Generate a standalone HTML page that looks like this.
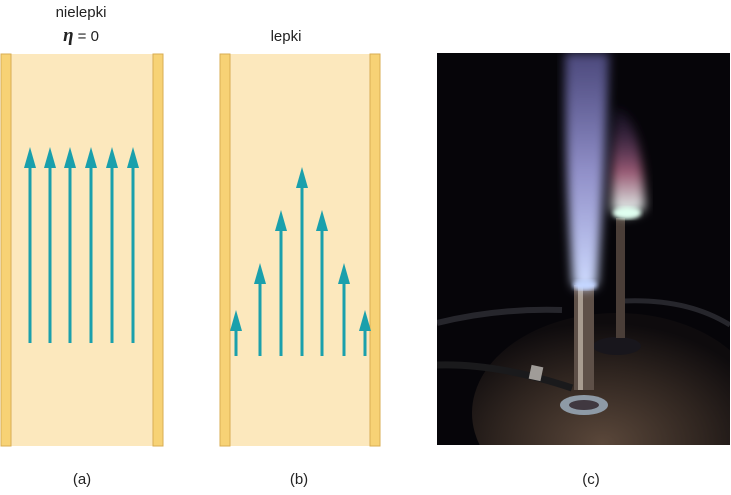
<!DOCTYPE html>
<html><head><style>
body{margin:0;width:731px;height:490px;background:#fff;overflow:hidden;font-family:"Liberation Sans",sans-serif;}
</style></head><body>
<svg width="731" height="490" viewBox="0 0 731 490">
<defs>
<radialGradient id="tbl" cx="0.45" cy="0.65" r="0.6">
<stop offset="0" stop-color="#5a473a"/><stop offset="0.6" stop-color="#2e241f"/><stop offset="1" stop-color="#0e0b0d"/>
</radialGradient>
<linearGradient id="fl1" x1="0" y1="0" x2="0" y2="1">
<stop offset="0" stop-color="#7a76c8" stop-opacity="0.6"/><stop offset="0.5" stop-color="#a9a8ea" stop-opacity="0.85"/><stop offset="1" stop-color="#cfdcff"/>
</linearGradient>
<linearGradient id="fl2" x1="0" y1="0" x2="0" y2="1">
<stop offset="0" stop-color="#3a2a60" stop-opacity="0.2"/><stop offset="0.6" stop-color="#9a5a74"/><stop offset="1" stop-color="#e8fff8"/>
</linearGradient>
<filter id="bl"><feGaussianBlur stdDeviation="5"/></filter>
<filter id="bl2"><feGaussianBlur stdDeviation="2"/></filter>
</defs>
<rect x="1" y="54" width="162" height="392" fill="#fce8bd"/>
<rect x="1" y="54" width="10" height="392" fill="#f7d275" stroke="#d9ad52" stroke-width="1"/>
<rect x="153" y="54" width="10" height="392" fill="#f7d275" stroke="#d9ad52" stroke-width="1"/>
<g fill="#1aa0ac" stroke="#1aa0ac">
<g stroke-width="3">
<line x1="30" y1="343" x2="30" y2="165"/><line x1="50" y1="343" x2="50" y2="165"/><line x1="70" y1="343" x2="70" y2="165"/>
<line x1="91" y1="343" x2="91" y2="165"/><line x1="112" y1="343" x2="112" y2="165"/><line x1="133" y1="343" x2="133" y2="165"/>
</g>
<g stroke="none">
<polygon points="24,168 30,147 36,168"/><polygon points="44,168 50,147 56,168"/><polygon points="64,168 70,147 76,168"/>
<polygon points="85,168 91,147 97,168"/><polygon points="106,168 112,147 118,168"/><polygon points="127,168 133,147 139,168"/>
</g>
</g>
<rect x="220" y="54" width="160" height="392" fill="#fce8bd"/>
<rect x="220" y="54" width="10" height="392" fill="#f7d275" stroke="#d9ad52" stroke-width="1"/>
<rect x="370" y="54" width="10" height="392" fill="#f7d275" stroke="#d9ad52" stroke-width="1"/>
<g fill="#1aa0ac" stroke="#1aa0ac">
<g stroke-width="3">
<line x1="236" y1="356" x2="236" y2="326"/><line x1="260" y1="356" x2="260" y2="280"/><line x1="281" y1="356" x2="281" y2="226"/>
<line x1="302" y1="356" x2="302" y2="184"/><line x1="322" y1="356" x2="322" y2="226"/><line x1="344" y1="356" x2="344" y2="280"/><line x1="365" y1="356" x2="365" y2="326"/>
</g>
<g stroke="none">
<polygon points="230,331 236,310 242,331"/><polygon points="254,284 260,263 266,284"/><polygon points="275,231 281,210 287,231"/>
<polygon points="296,188 302,167 308,188"/><polygon points="316,231 322,210 328,231"/><polygon points="338,284 344,263 350,284"/><polygon points="359,331 365,310 371,331"/>
</g>
</g>
<rect x="437" y="53" width="293" height="392" fill="#060509"/>
<svg x="437" y="53" width="293" height="392">
<ellipse cx="180" cy="360" rx="145" ry="100" fill="url(#tbl)"/>
<path d="M0,270 Q60,255 125,257" stroke="#26262c" stroke-width="6" fill="none"/>
<path d="M185,248 Q250,245 293,272" stroke="#26262c" stroke-width="5" fill="none"/>
<ellipse cx="180" cy="293" rx="24" ry="9" fill="#18161c"/>
<rect x="179" y="165" width="9" height="120" fill="#4a3e38"/>
<rect x="137" y="232" width="20" height="105" fill="#5e5048"/>
<rect x="141" y="232" width="5" height="105" fill="#a89c90"/>
<ellipse cx="147" cy="352" rx="24" ry="10" fill="#8e9aa6"/>
<ellipse cx="147" cy="352" rx="15" ry="5" fill="#403840"/>
<path d="M0,312 Q60,310 135,335" stroke="#1a1a1c" stroke-width="7" fill="none"/>
<rect x="93" y="313" width="12" height="14" fill="#a09c98" transform="rotate(12 99 320)"/>
<g filter="url(#bl)">
<path d="M128,0 L172,0 Q168,120 160,232 Q148,240 136,232 Q128,120 128,0Z" fill="url(#fl1)"/>
<path d="M178,55 Q205,60 208,155 Q193,168 175,158 Q174,100 178,55Z" fill="url(#fl2)"/>
</g>
<ellipse cx="148" cy="232" rx="12" ry="5" fill="#c4d6ff" filter="url(#bl2)"/>
<ellipse cx="190" cy="160" rx="14" ry="6" fill="#e0fff0" filter="url(#bl2)"/>
</svg>
<g font-family="Liberation Sans, sans-serif" font-size="15" fill="#222" text-anchor="middle">
<text x="81" y="17">nielepki</text>
<text x="81" y="41"><tspan font-family="Liberation Serif, serif" font-style="italic" font-weight="bold" font-size="19">η</tspan> = 0</text>
<text x="286" y="41">lepki</text>
<text x="82" y="484">(a)</text>
<text x="299" y="484">(b)</text>
<text x="591" y="484">(c)</text>
</g>
</svg>
</body></html>
